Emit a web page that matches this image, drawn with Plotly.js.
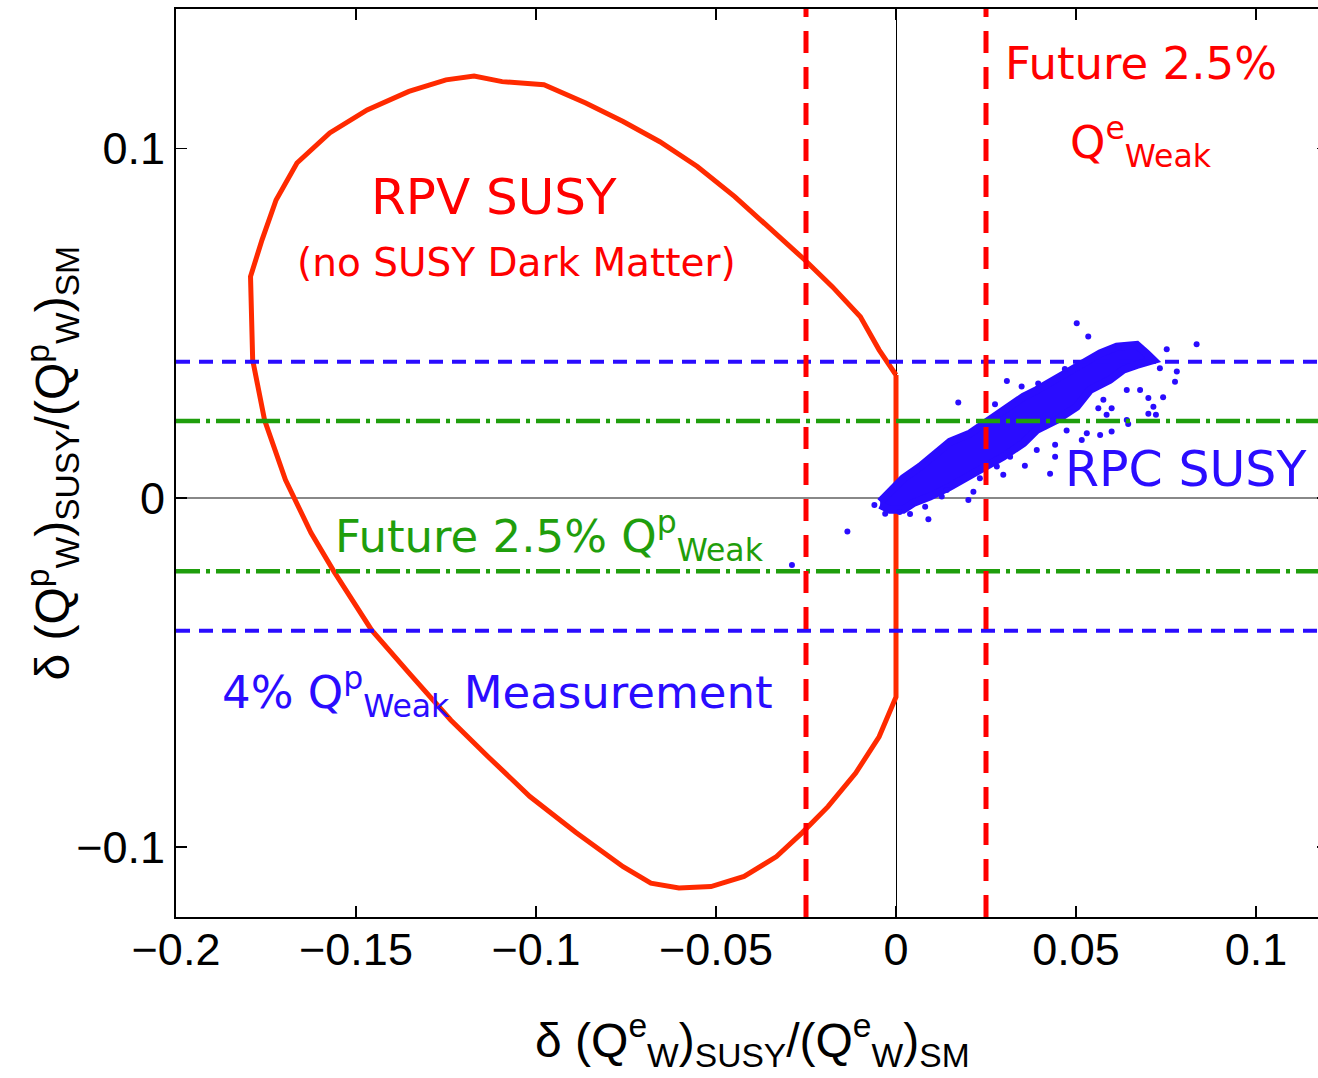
<!DOCTYPE html>
<html>
<head>
<meta charset="utf-8">
<script src="https://cdn.plot.ly/plotly-3.0.1.min.js"></script>
<style>
html,body{margin:0;padding:0;overflow:hidden;background:#fff;}
#chart{width:1330px;height:1078px;}
</style>
</head>
<body>
<div id="chart"></div>
<script>
// RPV SUSY allowed-region contour (closed)
const rpvX = [0.0, 0.0, -0.0047, -0.0112, -0.0189, -0.0261, -0.0332, -0.0422, -0.0514, -0.0603, -0.0681, -0.0758, -0.0888, -0.1017, -0.1133, -0.1237, -0.1353, -0.1457, -0.1561, -0.1625, -0.1696, -0.1754, -0.1787, -0.1793, -0.1761, -0.1722, -0.1664, -0.1573, -0.1469, -0.1353, -0.1250, -0.1172, -0.1094, -0.0978, -0.0862, -0.0758, -0.0656, -0.0552, -0.0448, -0.0344, -0.0254, -0.0177, -0.0099, -0.0047, 0.0];
const rpvY = [0.0352, -0.0570, -0.0684, -0.0788, -0.0884, -0.0959, -0.1027, -0.1084, -0.1113, -0.1117, -0.1103, -0.1056, -0.0959, -0.0855, -0.0741, -0.0636, -0.0501, -0.0378, -0.0211, -0.0100, 0.0052, 0.0223, 0.0395, 0.0634, 0.0739, 0.0853, 0.0959, 0.1045, 0.1111, 0.1164, 0.1197, 0.1208, 0.1192, 0.1183, 0.1131, 0.1078, 0.1020, 0.0949, 0.0863, 0.0767, 0.0682, 0.0605, 0.0519, 0.0424, 0.0352];

// RPC SUSY dense scan band (outline of the densely filled region)
const rpcBandX = [-0.0044, -0.0017, 0.0020, 0.0067, 0.0122, 0.0150, 0.0206, 0.0252, 0.0308, 0.0354, 0.0391, 0.0446, 0.0483, 0.0530, 0.0567, 0.0613, 0.0669, 0.0696, 0.0715, 0.0669, 0.0631, 0.0594, 0.0539, 0.0502, 0.0446, 0.0391, 0.0354, 0.0298, 0.0252, 0.0206, 0.0150, 0.0094, 0.0048, 0.0020, -0.0017, -0.0044];
const rpcBandY = [-0.0011, 0.0018, 0.0056, 0.0090, 0.0133, 0.0161, 0.0185, 0.0218, 0.0257, 0.0290, 0.0309, 0.0343, 0.0362, 0.0395, 0.0414, 0.0433, 0.0438, 0.0414, 0.0395, 0.0381, 0.0367, 0.0338, 0.0309, 0.0261, 0.0223, 0.0195, 0.0157, 0.0118, 0.0090, 0.0061, 0.0032, 0.0004, -0.0015, -0.0034, -0.0034, -0.0020];

// RPC SUSY scattered points around / outside the dense band
const rpcPtsX = [0.0502, 0.0534, 0.0835, 0.0752, 0.0733, 0.0780, 0.0775, 0.0308, 0.0173, 0.0275, 0.0678, 0.0641, 0.0701, 0.0742, 0.0715, 0.0701, 0.0722, 0.0576, 0.0599, 0.0562, 0.0585, 0.0641, 0.0645, 0.0530, 0.0567, 0.0599, 0.0516, 0.0474, 0.0442, 0.0442, 0.0358, 0.0428, 0.0298, 0.0215, 0.0201, 0.0127, 0.0081, 0.0090, 0.0039, -0.0135, -0.0289, 0.0349, 0.0395, 0.0469, 0.0618, 0.0317, 0.0391, 0.0280, 0.0233, 0.0141, -0.0060, -0.0030, 0.0010];
const rpcPtsY = [0.0500, 0.0462, 0.0440, 0.0426, 0.0371, 0.0362, 0.0333, 0.0335, 0.0273, 0.0268, 0.0309, 0.0309, 0.0286, 0.0288, 0.0261, 0.0241, 0.0238, 0.0281, 0.0257, 0.0257, 0.0238, 0.0223, 0.0212, 0.0185, 0.0180, 0.0190, 0.0166, 0.0193, 0.0152, 0.0118, 0.0092, 0.0069, 0.0066, 0.0018, -0.0006, 0.0004, -0.0025, -0.0061, -0.0046, -0.0096, -0.0192, 0.0319, 0.0328, 0.0369, 0.0432, 0.0118, 0.0137, 0.0090, 0.0056, 0.0023, -0.0020, -0.0045, -0.0040];

// Measurement bands
const qpWeak4pct = [0.039, -0.038];        // 4% Qp_Weak measurement (blue dashed)
const qpWeakFuture = [0.022, -0.021];      // future 2.5% Qp_Weak (green dash-dot)
const qeWeakFuture = [-0.025, 0.025];      // future 2.5% Qe_Weak (red dashed)

const xRange = [-0.2, 0.12];
const yRange = [-0.12, 0.14];
const xTickVals = [-0.2, -0.15, -0.1, -0.05, 0, 0.05, 0.1];
const xTickText = ['\u22120.2', '\u22120.15', '\u22120.1', '\u22120.05', '0', '0.05', '0.1'];
const yTickVals = [-0.1, 0, 0.1];
const yTickText = ['\u22120.1', '0', '0.1'];

const BLUE = '#2a0cff';
const GREEN = '#1f9e0c';
const RED = '#ff0000';
const CONTOUR = '#ff2a00';
const HAND = '"Comic Sans MS", "DejaVu Sans", sans-serif';
const HELV = '"Liberation Sans", Arial, sans-serif';

const traces = [];
traces.push({x: rpvX, y: rpvY, mode: 'lines', line: {color: CONTOUR, width: 5}, hoverinfo: 'skip'});
traces.push({x: rpcBandX, y: rpcBandY, mode: 'lines', fill: 'toself', fillcolor: BLUE, line: {color: BLUE, width: 8}, hoverinfo: 'skip'});
traces.push({x: rpcPtsX, y: rpcPtsY, mode: 'markers', marker: {color: BLUE, size: 6}, hoverinfo: 'skip'});
qpWeak4pct.forEach(v => traces.push({x: xRange, y: [v, v], mode: 'lines', line: {color: BLUE, width: 4, dash: '14px,9px'}, hoverinfo: 'skip'}));
qpWeakFuture.forEach(v => traces.push({x: xRange, y: [v, v], mode: 'lines', line: {color: GREEN, width: 4.5, dash: '24px,6px,4px,6px'}, hoverinfo: 'skip'}));
qeWeakFuture.forEach(v => traces.push({x: [v, v], y: yRange, mode: 'lines', line: {color: RED, width: 5, dash: '22px,14px'}, hoverinfo: 'skip'}));

const layout = {
  width: 1330, height: 1078, autosize: false,
  margin: {l: 176, r: 2, t: 9, b: 161, pad: 0},
  paper_bgcolor: '#fff', plot_bgcolor: '#fff',
  showlegend: false,
  font: {family: HELV, color: '#000'},
  xaxis: {
    range: xRange, tickvals: xTickVals, ticktext: xTickText,
    showgrid: false, zeroline: true, zerolinecolor: '#000', zerolinewidth: 1,
    showline: true, linecolor: '#000', linewidth: 2, mirror: 'ticks',
    ticks: 'inside', ticklen: 11, tickwidth: 1.5, tickcolor: '#000',
    tickfont: {size: 45, family: HELV}, ticklabelstandoff: -8
  },
  yaxis: {
    range: yRange, tickvals: yTickVals, ticktext: yTickText,
    showgrid: false, zeroline: true, zerolinecolor: '#888', zerolinewidth: 1.5,
    showline: true, linecolor: '#000', linewidth: 2, mirror: 'ticks',
    ticks: 'inside', ticklen: 11, tickwidth: 1.5, tickcolor: '#000',
    tickfont: {size: 45, family: HELV}
  },
  annotations: [
    // axis titles
    {xref: 'paper', yref: 'paper', x: 0.5, y: -0.1355, xanchor: 'center', yanchor: 'middle', showarrow: false,
     text: '\u03b4 (Q<sup>e</sup><sub>W</sub>)<sub>SUSY</sub>/(Q<sup>e</sup><sub>W</sub>)<sub>SM</sub>', font: {family: HELV, size: 48, color: '#000'}},
    {xref: 'paper', yref: 'paper', x: -0.108, y: 0.5, xanchor: 'center', yanchor: 'middle', textangle: -90, showarrow: false,
     text: '\u03b4 (Q<sup>p</sup><sub>W</sub>)<sub>SUSY</sub>/(Q<sup>p</sup><sub>W</sub>)<sub>SM</sub>', font: {family: HELV, size: 48, color: '#000'}},
    // in-plot labels
    {x: -0.1117, y: 0.0862, text: 'RPV SUSY', showarrow: false, font: {family: HAND, size: 50, color: RED}},
    {x: -0.1053, y: 0.0673, text: '(no SUSY Dark Matter)', showarrow: false, font: {family: HAND, size: 39, color: RED}},
    {x: 0.0681, y: 0.1243, text: 'Future 2.5%', showarrow: false, font: {family: HAND, size: 45, color: RED}},
    {x: 0.0681, y: 0.102, text: 'Q<sup>e</sup><sub>Weak</sub>', showarrow: false, font: {family: HAND, size: 45, color: RED}},
    {x: 0.0806, y: 0.008, text: 'RPC SUSY', showarrow: false, font: {family: HAND, size: 49, color: BLUE}},
    {x: -0.0963, y: -0.0109, text: 'Future 2.5% Q<sup>p</sup><sub>Weak</sub>', showarrow: false, font: {family: HAND, size: 45, color: GREEN}},
    {x: -0.1108, y: -0.0556, text: '4% Q<sup>p</sup><sub>Weak</sub> Measurement', showarrow: false, font: {family: HAND, size: 45, color: BLUE}}
  ]
};

Plotly.newPlot('chart', traces, layout, {staticPlot: true, displayModeBar: false});
</script>
</body>
</html>
